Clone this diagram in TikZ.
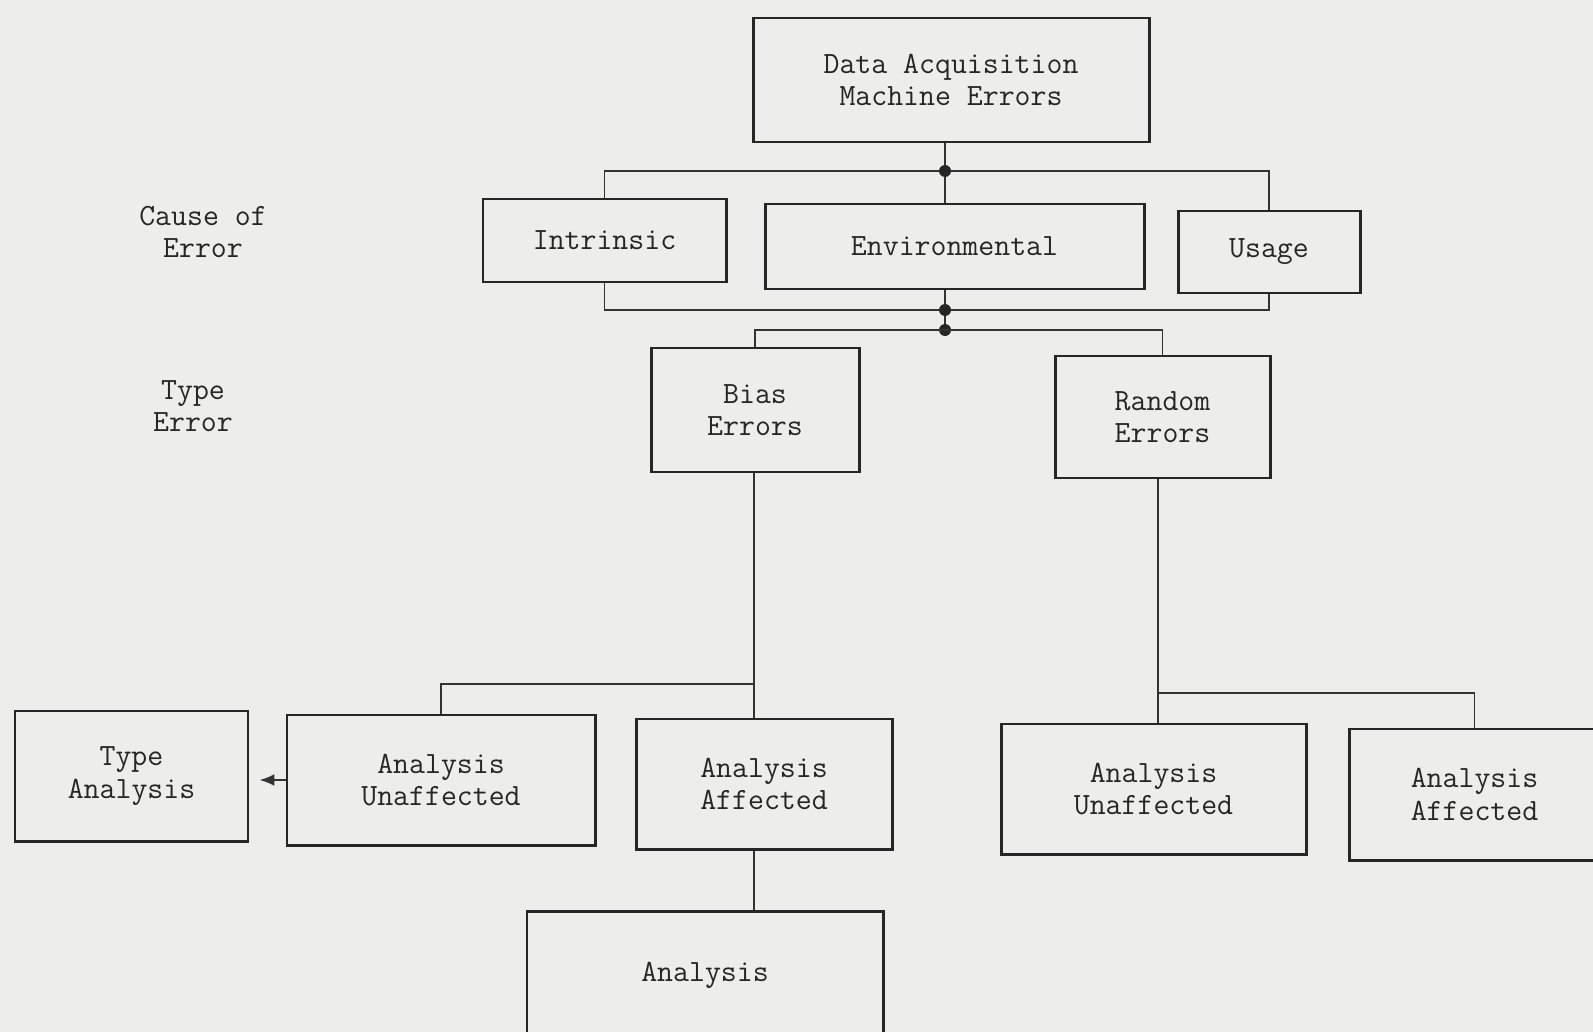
\documentclass[tikz,border=0pt]{standalone}
\usepackage{fontspec}
\usetikzlibrary{arrows.meta}

\begin{document}
\begin{tikzpicture}[
        box/.style={draw=black!85, line width=1.7pt, minimum width=4cm, minimum height=2.5cm, align=center, inner sep=0pt, text=black!85, font=\ttfamily\fontsize{17.6}{18.5}\selectfont},
        lbl/.style={align=center, inner sep=0pt, text=black!85, font=\ttfamily\fontsize{17.6}{18.5}\selectfont},
        link/.style={draw=black!80, line width=1.1pt},
        junc/.style={fill=black!85}
      ]

      % Scan background and frame
      \fill[fill={rgb,255:red,237;green,237;blue,235}] (0,0) rectangle (31.86,-20.64);
      \useasboundingbox (0,0) rectangle (31.86,-20.64);

      % Top
      \node[box, minimum width=7.92cm, minimum height=2.48cm] (top) at (19.02,-1.60) {Data Acquisition\\Machine Errors};

      % Cause of error
      \node[lbl] (cause) at (4.06,-4.64) {Cause of\\Error};
      \node[box, minimum width=4.86cm, minimum height=1.66cm] (intr) at (12.09,-4.81) {Intrinsic};
      \node[box, minimum width=7.58cm, minimum height=1.70cm] (env) at (19.09,-4.93) {Environmental};
      \node[box, minimum width=3.64cm, minimum height=1.64cm] (usage) at (25.38,-5.04) {Usage};

      \coordinate (j1) at (18.90,-3.42);
      \coordinate (j2) at (18.90,-6.20);
      \coordinate (j3) at (18.90,-6.60);
      \draw[link] (top.south -| j1) -- (j1) -- (env.north -| j1);
      \draw[link] (intr.north) |- (j1) -| (usage.north);
      \draw[link] (intr.south) |- (j2) -| (usage.south);
      \draw[link] (env.south -| j2) -- (j2) -- (j3);
      \fill[junc] (j1) circle[radius=0.12cm];
      \fill[junc] (j2) circle[radius=0.12cm];
      \fill[junc] (j3) circle[radius=0.12cm];

      % Type error
      \node[lbl] (terr) at (3.86,-8.12) {Type\\Error};
      \node[box, minimum width=4.16cm, minimum height=2.48cm] (bias) at (15.10,-8.20) {Bias\\Errors};
      \node[box, minimum width=4.30cm, minimum height=2.44cm] (rand) at (23.25,-8.34) {Random\\Errors};
      \draw[link] (bias.north) |- (j3) -| (rand.north);

      % Type analysis
      \node[box, minimum width=4.66cm, minimum height=2.60cm] (ta) at (2.63,-15.52) {Type\\Analysis};
      \node[box, minimum width=6.16cm, minimum height=2.60cm] (ua1) at (8.82,-15.60) {Analysis\\Unaffected};
      \node[box, minimum width=5.12cm, minimum height=2.60cm] (af1) at (15.28,-15.68) {Analysis\\Affected};
      \node[box, minimum width=6.10cm, minimum height=2.60cm] (ua2) at (23.07,-15.78) {Analysis\\Unaffected};
      \node[box, minimum width=5.02cm, minimum height=2.62cm] (af2) at (29.49,-15.89) {Analysis\\Affected};
      \draw[link, -{Latex[length=0.3cm, width=0.24cm]}, shorten >=0.2cm] (ua1.west) -- (ua1.west -| ta.east);

      \coordinate (j4) at (15.08,-13.68);
      \coordinate (j5) at (23.16,-13.86);
      \draw[link] (bias.south -| j4) -- (j4) -- (af1.north -| j4);
      \draw[link] (j4) -| (ua1.north);
      \draw[link] (rand.south -| j5) -- (j5) -- (ua2.north -| j5);
      \draw[link] (j5) -| (af2.north);

      % Analysis
      \node[box, minimum width=7.12cm, minimum height=2.56cm] (an) at (14.10,-19.50) {Analysis};
      \draw[link] (af1.south -| j4) -- (an.north -| j4);

    \end{tikzpicture}
\end{document}
